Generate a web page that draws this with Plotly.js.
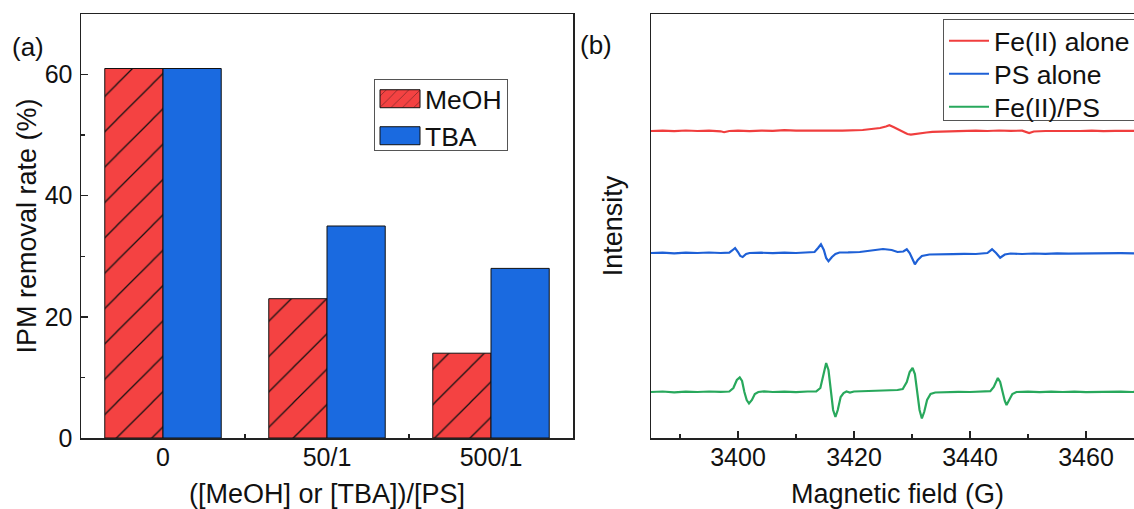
<!DOCTYPE html>
<html>
<head>
<meta charset="utf-8">
<script src="https://cdn.plot.ly/plotly-3.0.1.min.js"></script>
<style>
html,body{margin:0;padding:0;overflow:hidden;background:#fff;width:1134px;height:509px;}
#chart{width:1160px;height:509px;}
</style>
</head>
<body>
<div id="chart"></div>
<script>
// ---------- Panel (a) data ----------
const categories = ["0", "50/1", "500/1"];
const meohValues = [61, 23, 14];
const tbaValues = [61, 35, 28];

// ---------- Panel (b) data: EPR spectra (field in G, signal in px-like units) ----------
const feField = [3385,3387,3389,3391,3393,3395,3397,3397.6,3398.5,3400,3402,3404,3406,3408,3410,3412,3414,3416,3418,3420,3421.5,3423,3424.5,3425.5,3426.1,3426.8,3427.6,3428.4,3429.2,3429.8,3430.6,3431.5,3432.5,3433.5,3435,3437,3439,3441,3443,3445,3447,3449,3450.2,3451,3453,3455,3457,3459,3461,3463,3465,3467,3470];
const feSignal = [0,0.3,-0.2,0.5,0,0.4,-0.3,-1.2,0,0.3,-0.2,0.4,0.2,0.8,0.3,0.5,0.2,0.5,0.3,0.5,1,2,3,4.5,5.7,4,1.5,-1,-3,-3.6,-3.2,-2.5,-1.5,-0.8,-0.5,0,-0.3,0.4,0,0.5,0.2,0.3,-2,-0.5,0,-0.2,0.2,0,0.3,-0.2,0.1,0,0.2];

const psField = [3385,3387,3389,3391,3393,3395,3397,3398.5,3399.0,3399.5,3400.0,3400.4,3400.8,3401.4,3402,3404,3406,3408,3410,3412,3413.2,3413.8,3414.3,3414.8,3415.2,3415.6,3416.2,3416.8,3417.5,3419,3421,3423,3425,3426.5,3427.5,3428.5,3429.1,3429.6,3430.1,3430.5,3431.0,3431.7,3433,3435,3437,3439,3441,3443,3443.8,3444.5,3445.2,3446,3447,3449,3451,3453,3455,3457,3460,3463,3466,3470];
const psSignal = [0,0.3,-0.3,0.4,0,0.5,0,0.3,2.5,5,1,-3,-4,-1,0,0.3,-0.2,0.3,0,0.4,1,5,8.7,3,-5,-8.3,-4,-1,0.5,0.6,1,2.5,4,3,1,1.5,3.7,0,-7,-11.3,-7,-3,-1.5,-1,-1.2,-0.8,-1,0,3.7,0,-4.7,-1.5,-0.5,-1,-0.5,-0.8,-0.3,-0.6,-0.3,-0.6,-0.2,-0.4];

const fepsField = [3385,3387,3389,3391,3393,3395,3397,3398.5,3399.2,3399.8,3400.3,3400.7,3401.1,3401.5,3401.9,3402.4,3402.9,3403.5,3404.5,3406,3408,3410,3412,3413.5,3414.2,3414.7,3415.2,3415.6,3416.0,3416.4,3416.8,3417.2,3417.7,3418.2,3418.7,3419.3,3420,3422,3424,3426,3427.5,3428.4,3429.1,3429.6,3430.1,3430.5,3430.9,3431.3,3431.7,3432.1,3432.6,3433.2,3434,3436,3438,3440,3442,3443.5,3444.1,3444.5,3444.8,3445.2,3445.6,3446.0,3446.3,3446.8,3447.3,3448,3450,3452,3454,3456,3458,3460,3462,3464,3466,3468,3470];
const fepsSignal = [0,0.5,-0.3,0.4,0,0.5,0.2,0.5,4,12,14.5,11,0,-8,-11.5,-8,-2,0,0.6,0,0.3,-0.2,0.5,0.6,4,18,29,22,0,-18,-25,-18,-5,-1,0.5,-0.5,0.5,1,1.5,2,2,3,10,20,24,18,0,-18,-26.5,-20,-8,-2,-0.5,0,0.2,0,0.5,0.8,5,11,14,10,0,-9,-13,-8,-2,0,0.3,-0.2,0.4,0,0.3,-0.2,0.2,0,0.3,0,0.2];

const seriesNames = ["Fe(II) alone", "PS alone", "Fe(II)/PS"];
const traceOffsets = [307, 185, 46]; // vertical stacking offsets of the spectra

// ---------- styling ----------
const W = 1160, H = 509;
const FONT = "Liberation Sans, Arial, Helvetica, sans-serif";
const RED = "rgb(244,66,66)", BLUE = "rgb(26,106,224)";
const LRED = "rgb(240,62,62)", LBLUE = "rgb(30,96,214)", LGREEN = "rgb(40,168,92)";
const AX = "#222";

const shift = (arr, off) => arr.map(v => v + off);

const traces = [
  {type:"bar", name:"MeOH", x:[0,1,2], y:meohValues, xaxis:"x", yaxis:"y", legend:"legend",
   marker:{color:RED, line:{color:"#111", width:1},
     pattern:{shape:"/", size:25, solidity:0.05, fgcolor:"#111", bgcolor:RED, fillmode:"replace"}}},
  {type:"bar", name:"TBA", x:[0,1,2], y:tbaValues, xaxis:"x", yaxis:"y", legend:"legend",
   marker:{color:BLUE, line:{color:"#111", width:1}}},
  {type:"scatter", mode:"lines", name:seriesNames[0], x:feField, y:shift(feSignal, traceOffsets[0]),
   xaxis:"x2", yaxis:"y2", legend:"legend2", line:{color:LRED, width:2.2}},
  {type:"scatter", mode:"lines", name:seriesNames[1], x:psField, y:shift(psSignal, traceOffsets[1]),
   xaxis:"x2", yaxis:"y2", legend:"legend2", line:{color:LBLUE, width:2.2}},
  {type:"scatter", mode:"lines", name:seriesNames[2], x:fepsField, y:shift(fepsSignal, traceOffsets[2]),
   xaxis:"x2", yaxis:"y2", legend:"legend2", line:{color:LGREEN, width:2.2}}
];

const yDom = [71/H, 495/H];
const common = {showline:true, mirror:true, linecolor:AX, linewidth:1.5, showgrid:false, zeroline:false,
  tickfont:{family:FONT, size:25, color:"#111"}, tickcolor:AX, tickwidth:1.3};

const layout = {
  width:W, height:H, margin:{l:0, r:0, t:0, b:0}, paper_bgcolor:"#fff", plot_bgcolor:"#fff",
  font:{family:FONT, color:"#111"},
  barmode:"group", bargap:0.29, bargroupgap:0,
  xaxis:Object.assign({}, common, {domain:[81/W, 573/W], range:[-0.5, 2.5], tickmode:"array",
    tickvals:[0,1,2], ticktext:categories, ticks:"", ticklabelstandoff:-4,
    minor:{tickmode:"array", tickvals:[0.5,1.5], ticks:"inside", ticklen:4, tickcolor:AX, tickwidth:1.3},
    title:{text:"([MeOH] or [TBA])/[PS]", font:{family:FONT, size:27, color:"#111"}, standoff:16}}),
  yaxis:Object.assign({}, common, {domain:yDom, range:[0,70], dtick:20, ticks:"inside", ticklen:7,
    ticklabelstandoff:2,
    minor:{dtick:10, ticks:"inside", ticklen:4, tickcolor:AX, tickwidth:1.3},
    title:{text:"IPM removal rate (%)", font:{family:FONT, size:27, color:"#111"}, standoff:0}}),
  xaxis2:Object.assign({}, common, {domain:[651/W, 1144/W], range:[3385, 3470], anchor:"y2",
    dtick:20, ticks:"inside", ticklen:7, ticklabelstandoff:-4,
    minor:{dtick:10, ticks:"inside", ticklen:4, tickcolor:AX, tickwidth:1.3},
    title:{text:"Magnetic field (G)", font:{family:FONT, size:27, color:"#111"}, standoff:17}}),
  yaxis2:Object.assign({}, common, {domain:yDom, range:[0,424], anchor:"x2", showticklabels:false, ticks:"",
    title:{text:"Intensity", font:{family:FONT, size:27, color:"#111"}, standoff:19}}),
  legend:{x:374/W, y:1-79/H, xanchor:"left", yanchor:"top", bgcolor:"#fff", bordercolor:"#555", borderwidth:1,
    font:{family:FONT, size:26.5, color:"#111"}, itemwidth:40, tracegroupgap:0},
  legend2:{x:943/W, y:1-19/H, xanchor:"left", yanchor:"top", bgcolor:"#fff", bordercolor:"#555", borderwidth:1,
    font:{family:FONT, size:26.5, color:"#111"}, itemwidth:40},
  annotations:[
    {text:"(a)", xref:"paper", yref:"paper", x:28/W, y:1-47/H, showarrow:false, xanchor:"center", yanchor:"middle",
     font:{family:FONT, size:26, color:"#111"}},
    {text:"(b)", xref:"paper", yref:"paper", x:596/W, y:1-45/H, showarrow:false, xanchor:"center", yanchor:"middle",
     font:{family:FONT, size:26, color:"#111"}}
  ],
  showlegend:true
};

// tighten the legend rows to the reference spacing
function tightenLegend(cls, delta, spacing, boxHeight) {
  const g = document.querySelector("g." + cls);
  if (!g) return;
  const items = g.querySelectorAll("g.traces");
  let y0 = null;
  items.forEach(function(it, i) {
    const m = /translate\(\s*([-\d.]+)\s*,\s*([-\d.]+)\s*\)/.exec(it.getAttribute("transform") || "");
    if (!m) return;
    if (y0 === null) y0 = parseFloat(m[2]);
    it.setAttribute("transform", "translate(" + m[1] + "," + (y0 + delta + i * spacing) + ")");
  });
  const bg = g.querySelector("rect.bg");
  if (bg) bg.setAttribute("height", boxHeight);
}

Plotly.newPlot("chart", traces, layout, {staticPlot:true, displayModeBar:false}).then(function(){
  // enlarge the bar legend swatches to match the reference
  document.querySelectorAll("g.legend g.legendpoints path").forEach(function(p){
    p.setAttribute("d", "M20,9H-20V-9H20Z");
  });
  tightenLegend("legend", -5, 37, 71);
  tightenLegend("legend2", -3, 33, 101);
});
</script>
</body>
</html>
